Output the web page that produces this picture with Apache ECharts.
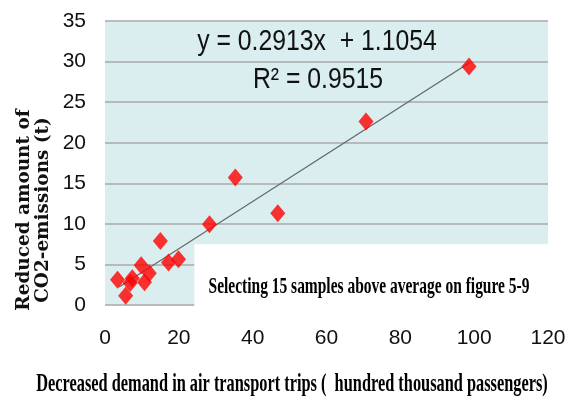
<!DOCTYPE html>
<html>
<head>
<meta charset="utf-8">
<script src="https://cdn.jsdelivr.net/npm/echarts@6/dist/echarts.min.js"></script>
<style>html,body{margin:0;padding:0;background:#fff;}#c{width:570px;height:403px;}</style>
</head>
<body>
<div id="c"></div>
<script>
// Data
const demandX = [3.4, 5.6, 6.8, 7.4, 9.8, 10.7, 12.0, 15.0, 17.2, 19.9, 28.3, 35.3, 46.8, 70.7, 98.6];
const co2Y    = [3.1, 1.15, 2.7, 3.3, 4.9, 2.8, 3.9, 7.9, 5.25, 5.65, 9.95, 15.7, 11.3, 22.6, 29.4];
const slope = 0.2913, intercept = 1.1054;
const trendX = [3.8, 98.6];
const xTicks = [0, 20, 40, 60, 80, 100, 120];
const yTicks = [0, 5, 10, 15, 20, 25, 30, 35];
const eqText = 'y = 0.2913x  + 1.1054';
const r2Text = 'R\u00B2 = 0.9515';
const noteText = 'Selecting 15 samples above average on figure 5-9';
const xTitle = 'Decreased demand in air transport trips (  hundred thousand passengers)';
const yTitle = 'Reduced amount of\nCO2-emissions (t)';

const points = demandX.map((x, i) => [x, co2Y[i]]);
const trend = trendX.map(x => [x, slope * x + intercept]);

const chart = echarts.init(document.getElementById('c'), null, {renderer: 'canvas'});
const G = {left: 105, right: 22, top: 21, bottom: 98};
chart.setOption({
  animation: false,
  grid: {left: G.left, right: G.right, top: G.top, bottom: G.bottom, show: true,
         backgroundColor: '#DAEDEF', borderWidth: 0},
  xAxis: {type: 'value', min: xTicks[0], max: xTicks[xTicks.length - 1], interval: 20,
          axisLine: {show: false}, axisTick: {show: false}, splitLine: {show: false},
          axisLabel: {fontFamily: 'Liberation Sans, Arial', fontSize: 21, color: '#111', margin: 23}},
  yAxis: {type: 'value', min: yTicks[0], max: yTicks[yTicks.length - 1], interval: 5,
          axisLine: {show: false}, axisTick: {show: false},
          splitLine: {show: true, lineStyle: {color: '#A8A8A8', width: 1.5}},
          axisLabel: {fontFamily: 'Liberation Sans, Arial', fontSize: 21, color: '#111', margin: 19}},
  series: [
    {type: 'line', data: trend, symbol: 'none', lineStyle: {color: '#666', width: 1.2}, z: 2, silent: true},
    {type: 'scatter', data: points, symbol: 'diamond', symbolSize: [15, 18],
     itemStyle: {color: '#FF0000'}, z: 3}
  ]
});

// white annotation box covering lower-right of plot area
const p0 = chart.convertToPixel({gridIndex: 0}, [24.2, 7.5]);
const p1 = chart.convertToPixel({gridIndex: 0}, [122, -0.3]);
chart.setOption({
  graphic: [
    {type: 'rect', shape: {x: p0[0], y: p0[1], width: p1[0] - p0[0], height: p1[1] - p0[1]},
     style: {fill: '#fff'}, z: 50},
    {type: 'text', x: 369, y: 287, scaleX: 0.86, scaleY: 1.25, z: 60,
     style: {text: noteText, textAlign: 'center', textVerticalAlign: 'middle',
             font: 'bold 18px "Liberation Serif", "Times New Roman", serif', fill: '#000'}},
    {type: 'text', x: 317, y: 42, scaleX: 1.18, scaleY: 1.4, z: 60,
     style: {text: eqText, textAlign: 'center', textVerticalAlign: 'middle',
             font: '21px "Liberation Sans", Arial, sans-serif', fill: '#111'}},
    {type: 'text', x: 318, y: 80, scaleX: 1.18, scaleY: 1.4, z: 60,
     style: {text: r2Text, textAlign: 'center', textVerticalAlign: 'middle',
             font: '21px "Liberation Sans", Arial, sans-serif', fill: '#111'}},
    {type: 'text', x: 292, y: 384, scaleX: 0.86, scaleY: 1.35, z: 60,
     style: {text: xTitle, textAlign: 'center', textVerticalAlign: 'middle',
             font: 'bold 19px "Liberation Serif", "Times New Roman", serif', fill: '#000'}},
    {type: 'text', x: 34, y: 210, rotation: Math.PI / 2, scaleX: 0.97, z: 60,
     style: {text: yTitle, textAlign: 'center', textVerticalAlign: 'middle', lineHeight: 19,
             font: 'bold 19px "DejaVu Serif", serif', fill: '#111'}}
  ]
});
</script>
</body>
</html>
